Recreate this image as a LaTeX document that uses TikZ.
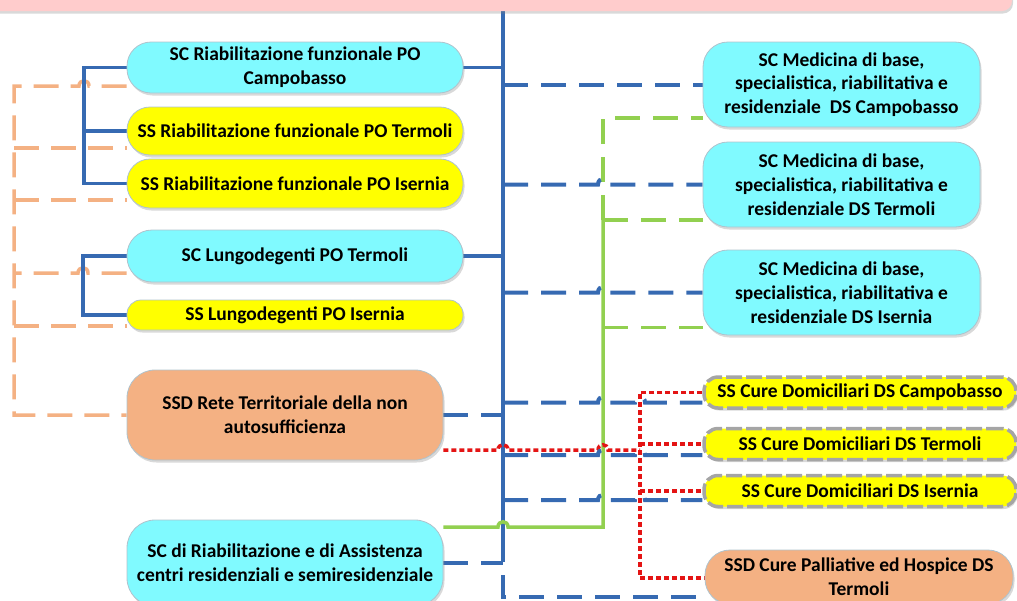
\documentclass[tikz,border=0pt]{standalone}
\usepackage{fontspec}
\setmainfont{Carlito}
\usetikzlibrary{shadows,calc}
\pgfdeclarelayer{background}
\pgfsetlayers{background,main}

\definecolor{boxcyan}{RGB}{128,250,255}
\definecolor{boxyellow}{RGB}{255,255,0}
\definecolor{boxpeach}{RGB}{244,177,131}
\definecolor{bandpink}{RGB}{255,204,204}
\definecolor{boxedge}{RGB}{175,195,205}
\definecolor{cureedge}{RGB}{165,165,165}
\definecolor{linkblue}{RGB}{54,106,178}
\definecolor{linkgreen}{RGB}{146,208,80}
\definecolor{linkorange}{RGB}{244,177,131}
\definecolor{linkred}{RGB}{228,20,20}

\begin{document}
\begin{tikzpicture}[x=1pt,y=-1pt,
  box/.style={draw=boxedge, line width=0.8pt, align=center, inner sep=0pt,
    font=\fontsize{19.5}{23.8}\selectfont\bfseries,
    drop shadow={shadow xshift=1.5pt, shadow yshift=-2.5pt, opacity=0.3}},
  cyanbox/.style={box, fill=boxcyan},
  yellowbox/.style={box, fill=boxyellow},
  peachbox/.style={box, fill=boxpeach},
  curebox/.style={box, fill=boxyellow, draw=cureedge, line width=3.5pt,
    dash pattern=on 16pt off 4pt},
  bline/.style={draw=linkblue, line width=3.5pt},
  bdash/.style={draw=linkblue, line width=4pt, dash pattern=on 25pt off 13pt},
  gline/.style={draw=linkgreen, line width=3.5pt},
  gdash/.style={draw=linkgreen, line width=3.5pt, dash pattern=on 25pt off 13pt},
  odash/.style={draw=linkorange, line width=3.5pt, dash pattern=on 25pt off 12pt},
  rdot/.style={draw=linkred, line width=3.5pt, dash pattern=on 5pt off 3pt},
]
\useasboundingbox (0,0) rectangle (1017,600);
\clip (0,0) rectangle (1017,600);

% header band
\path[fill=bandpink, rounded corners=10pt,
  drop shadow={shadow xshift=1pt, shadow yshift=-2.5pt, opacity=0.3}]
  (-40,-40) rectangle (1012,11);

% left column
\node[cyanbox, minimum width=336pt, minimum height=51pt, rounded corners=24pt]
  (RiabCB) at (295,67.5) {SC Riabilitazione funzionale PO\\Campobasso};
\node[yellowbox, minimum width=336pt, minimum height=48pt, rounded corners=23pt]
  (RiabTE) at (295,131) {SS Riabilitazione funzionale PO Termoli};
\node[yellowbox, minimum width=336pt, minimum height=49pt, rounded corners=23pt]
  (RiabIS) at (295,183.5) {SS Riabilitazione funzionale PO Isernia};
\node[cyanbox, minimum width=336pt, minimum height=52pt, rounded corners=25pt]
  (LungTE) at (295,256) {SC Lungodegenti PO Termoli};
\node[yellowbox, minimum width=336pt, minimum height=30pt, rounded corners=14pt]
  (LungIS) at (295,315) {SS Lungodegenti PO Isernia};
\node[peachbox, minimum width=316pt, minimum height=90pt, rounded corners=28pt]
  (Rete) at (285,415) {SSD Rete Territoriale della non\\autosufficienza};
\node[cyanbox, minimum width=316pt, minimum height=86pt, rounded corners=28pt]
  (SCdR) at (285,563) {SC di Riabilitazione e di Assistenza\\centri residenziali e semiresidenziale};

% right column
\node[cyanbox, minimum width=277pt, minimum height=85pt, rounded corners=25pt]
  (MedCB) at (841.5,84.5) {SC Medicina di base,\\specialistica, riabilitativa e\\residenziale\ \ DS Campobasso};
\node[cyanbox, minimum width=277pt, minimum height=85pt, rounded corners=25pt]
  (MedTE) at (841.5,184.5) {SC Medicina di base,\\specialistica, riabilitativa e\\residenziale DS Termoli};
\node[cyanbox, minimum width=277pt, minimum height=85pt, rounded corners=25pt]
  (MedIS) at (841.5,292.5) {SC Medicina di base,\\specialistica, riabilitativa e\\residenziale DS Isernia};
\node[curebox, minimum width=312pt, minimum height=31pt, rounded corners=14pt]
  (CureCB) at (860,392.5) {SS Cure Domiciliari DS Campobasso};
\node[curebox, minimum width=312pt, minimum height=31pt, rounded corners=14pt]
  (CureTE) at (860,444) {SS Cure Domiciliari DS Termoli};
\node[curebox, minimum width=312pt, minimum height=31pt, rounded corners=14pt]
  (CureIS) at (860,491) {SS Cure Domiciliari DS Isernia};
\node[peachbox, minimum width=308pt, minimum height=54pt, rounded corners=25pt]
  (Pall) at (859,577) {SSD Cure Palliative ed Hospice DS\\Termoli};

% bus positions and connector end points
\coordinate (trunktop) at (503,11);
\coordinate (trunkbot) at (503,562);
\coordinate (lbx) at (84,0);
\coordinate (lbx2) at (83,0);
\coordinate (ox) at (14,0);
\coordinate (gx) at (603,0);
\coordinate (rx) at (640,0);

\coordinate (cbB) at ([yshift=-10pt]CureCB.west);
\coordinate (teB) at ([yshift=-11pt]CureTE.west);
\coordinate (isB) at ([yshift=-9pt]CureIS.west);
\coordinate (paB) at ([yshift=-20pt]Pall.west);
\coordinate (paR) at ([yshift=-1pt]Pall.west);
\coordinate (reR) at ([yshift=-35pt]Rete.east);
\coordinate (sdG) at ([yshift=36pt]SCdR.east);
\coordinate (mcG) at ([yshift=-33.5pt]MedCB.west);
\coordinate (mtG) at ([yshift=-35.5pt]MedTE.west);
\coordinate (miG) at ([yshift=-35pt]MedIS.west);
\coordinate (o1) at ([yshift=-18.5pt]RiabCB.west);
\coordinate (o2) at ([yshift=-17pt]RiabTE.west);
\coordinate (o3) at ([yshift=-16.5pt]RiabIS.west);
\coordinate (o4) at ([yshift=-17pt]LungTE.west);
\coordinate (o5) at ([yshift=-11pt]LungIS.west);

\begin{pgfonlayer}{background}
  % orange dashed links on the far left
  \draw[odash] (o1) -- (89,86) .. controls (89,79) and (79,79) .. (79,86)
    -- (ox |- o1) -- (ox |- Rete.west) -- (Rete.west);
  \draw[odash] (ox |- o2) -- (o2);
  \draw[odash] (ox |- o3) -- (o3);
  \draw[odash] (o4) -- (88,273) .. controls (88,266) and (78,266) .. (78,273)
    -- (ox |- o4);
  \draw[odash] (ox |- o5) -- (o5);

  % solid blue hierarchy
  \draw[bline] (trunktop) -- (trunkbot);
  \draw[bline] (RiabCB.east) -- (RiabCB.east -| trunktop);
  \draw[bline] (LungTE.east) -- (LungTE.east -| trunktop);
  \draw[bline] (RiabCB.west) -| (lbx |- RiabIS.west) -- (RiabIS.west);
  \draw[bline] (lbx |- RiabTE.west) -- (RiabTE.west);
  \draw[bline] (LungTE.west) -| (lbx2 |- LungIS.west) -- (LungIS.west);

  % green links to the district units
  \draw[gline] (sdG) -- (498,527) .. controls (498,520) and (508,520) .. (508,527)
    -- (sdG -| gx) -- (gx |- mtG);
  \draw[gdash] (gx |- mtG) -- (mtG);
  \draw[gdash] (gx |- mtG) -- (gx |- mcG) -- (mcG);
  \draw[gdash] (gx |- miG) -- (miG);

  % red dotted links
  \draw[rdot] (reR) -- (498,450) .. controls (498,443) and (508,443) .. (508,450)
    -- (598,450) .. controls (598,443) and (608,443) .. (608,450) -- (reR -| rx);
  \draw[rdot] (CureCB.west) -| (rx |- paR) -- (paR);
  \draw[rdot] (rx |- CureTE.west) -- (CureTE.west);
  \draw[rdot] (rx |- CureIS.west) -- (CureIS.west);

  % blue dashed links
  \draw[bdash] (MedCB.west -| trunktop) -- (MedCB.west);
  \draw[bdash] (MedTE.west -| trunktop) -- (598,184.5)
    .. controls (598,177) and (608,177) .. (608,184.5) -- (MedTE.west);
  \draw[bdash] (MedIS.west -| trunktop) -- (598,292.5)
    .. controls (598,285) and (608,285) .. (608,292.5) -- (MedIS.west);
  \draw[bdash] (cbB -| trunktop) -- (598,402.5)
    .. controls (598,395) and (608,395) .. (608,402.5) -- (635,402.5)
    .. controls (635,395) and (645,395) .. (645,402.5) -- (cbB);
  \draw[bdash] (teB -| trunktop) -- (598,455)
    .. controls (598,448) and (608,448) .. (608,455) -- (635,455)
    .. controls (635,448) and (645,448) .. (645,455) -- (teB);
  \draw[bdash] (isB -| trunktop) -- (598,500)
    .. controls (598,493) and (608,493) .. (608,500) -- (635,500)
    .. controls (635,493) and (645,493) .. (645,500) -- (isB);
  \draw[bdash] (Rete.east) -- (Rete.east -| trunktop);
  \draw[bdash] (SCdR.east) -- (SCdR.east -| trunktop);
  \draw[bdash, dash phase=25pt] (trunkbot) |- (paB);
\end{pgfonlayer}
\end{tikzpicture}
\end{document}
